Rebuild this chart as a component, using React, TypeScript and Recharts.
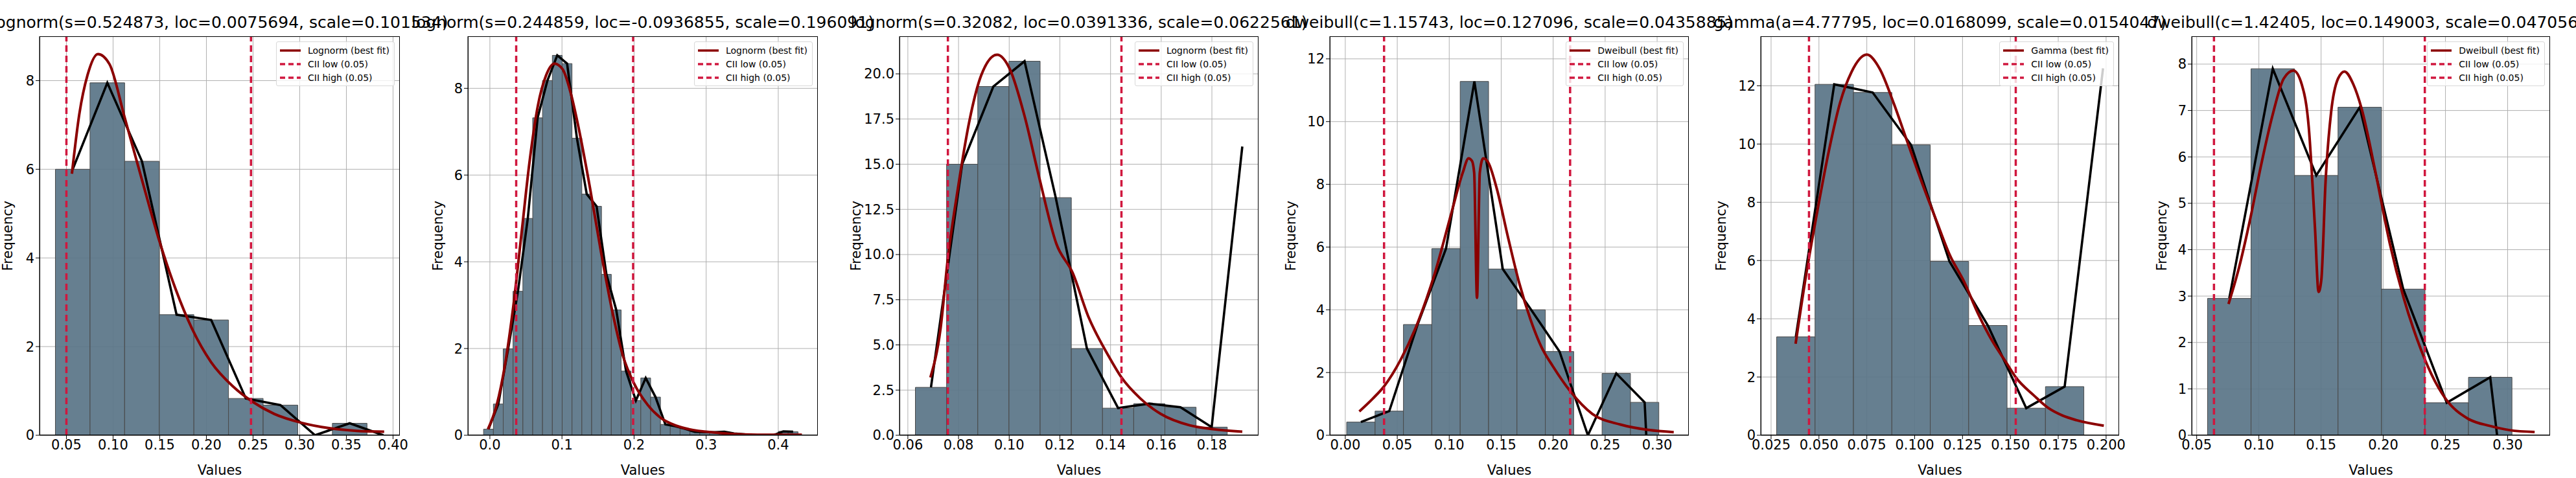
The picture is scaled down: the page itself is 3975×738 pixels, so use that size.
import React from "react";
import { ComposedChart, XAxis, YAxis, CartesianGrid, Line, ReferenceArea, ReferenceLine } from "recharts";

// ---- panel 1: lognorm ----
const P1_TITLE = "lognorm(s=0.524873, loc=0.0075694, scale=0.101534)";
const P1_FIT = "Lognorm (best fit)";
const P1_BIN_START = 0.0382;
const P1_BIN_WIDTH = 0.0371;
const P1_COUNTS = [6.0, 7.95, 6.18, 2.72, 2.6, 0.83, 0.68, 0, 0.27];
const P1_TAIL_X = [0.3896];
const P1_TAIL_Y = [0];
const P1_FIT_X = [0.0559, 0.0638, 0.0727, 0.0838, 0.0962, 0.1124, 0.1315, 0.1492, 0.1668, 0.1845, 0.205, 0.2286, 0.2492, 0.2728, 0.3022, 0.3316, 0.361, 0.3905];
const P1_FIT_Y = [5.9, 7.24, 8.13, 8.6, 8.37, 7.17, 5.72, 4.41, 3.31, 2.41, 1.65, 1.1, 0.76, 0.48, 0.28, 0.16, 0.1, 0.08];
const P1_CII = [0.05, 0.2478];
const P1_XTICKS = [0.05, 0.1, 0.15, 0.2, 0.25, 0.3, 0.35, 0.4];
const P1_YTICKS = [0, 2, 4, 6, 8];

// ---- panel 2: lognorm ----
const P2_TITLE = "lognorm(s=0.244859, loc=-0.0936855, scale=0.196091)";
const P2_FIT = "Lognorm (best fit)";
const P2_BIN_START = -0.00876;
const P2_BIN_WIDTH = 0.01363;
const P2_COUNTS = [0.14, 0.72, 1.99, 3.32, 5.0, 7.32, 8.18, 8.76, 8.57, 6.85, 5.56, 5.28, 3.71, 2.89, 1.48, 0.8, 1.32, 0.88, 0.25, 0.21, 0.15, 0.08, 0.07, 0.07, 0.08, 0.04, 0.02, 0, 0, 0, 0.09, 0.08];
const P2_TAIL_X: number[] = [];
const P2_TAIL_Y: number[] = [];
const P2_FIT_X = [-0.0027, 0.0095, 0.0209, 0.0324, 0.0438, 0.0552, 0.0666, 0.078, 0.0895, 0.1009, 0.1123, 0.1237, 0.1389, 0.1542, 0.1694, 0.1846, 0.1998, 0.2189, 0.2379, 0.257, 0.276, 0.314, 0.352, 0.39, 0.4328];
const P2_FIT_Y = [0.14, 0.7, 1.62, 2.96, 4.64, 6.33, 7.6, 8.3, 8.57, 8.44, 7.88, 7.04, 5.7, 4.22, 2.89, 1.83, 1.2, 0.7, 0.39, 0.23, 0.14, 0.06, 0.02, 0.01, 0.01];
const P2_CII = [0.0365, 0.1987];
const P2_XTICKS = [0, 0.1, 0.2, 0.3, 0.4];
const P2_YTICKS = [0, 2, 4, 6, 8];

// ---- panel 3: lognorm ----
const P3_TITLE = "lognorm(s=0.32082, loc=0.0391336, scale=0.0622561)";
const P3_FIT = "Lognorm (best fit)";
const P3_BIN_START = 0.06297;
const P3_BIN_WIDTH = 0.01231;
const P3_COUNTS = [2.65, 15.0, 19.3, 20.7, 13.15, 4.8, 1.5, 1.75, 1.55, 0.45];
const P3_TAIL_X = [0.192];
const P3_TAIL_Y = [15.98];
const P3_FIT_X = [0.0689, 0.0729, 0.0758, 0.0798, 0.0843, 0.0889, 0.0952, 0.1003, 0.106, 0.1117, 0.1186, 0.125, 0.1312, 0.1392, 0.1443, 0.1518, 0.1598, 0.1712, 0.1803, 0.192];
const P3_FIT_Y = [3.2, 5.9, 9.8, 13.7, 17.4, 19.9, 21.06, 20.25, 17.7, 14.35, 10.6, 9.0, 6.58, 4.39, 3.2, 2.03, 1.18, 0.55, 0.34, 0.2];
const P3_CII = [0.0758, 0.1443];
const P3_XTICKS = [0.06, 0.08, 0.1, 0.12, 0.14, 0.16, 0.18];
const P3_YTICKS = [0, 2.5, 5, 7.5, 10, 12.5, 15, 17.5, 20];

// ---- panel 4: dweibull ----
const P4_TITLE = "dweibull(c=1.15743, loc=0.127096, scale=0.0435885)";
const P4_FIT = "Dweibull (best fit)";
const P4_BIN_START = 0.00135;
const P4_BIN_WIDTH = 0.0273;
const P4_COUNTS = [0.42, 0.77, 3.53, 5.95, 11.28, 5.3, 4.0, 2.67, 0, 1.97, 1.05];
const P4_TAIL_X = [0.2925];
const P4_TAIL_Y = [-2];
const P4_FIT_X = [0.0135, 0.0265, 0.0373, 0.0536, 0.0698, 0.0861, 0.1022, 0.113, 0.1186, 0.1218, 0.124, 0.1267, 0.1294, 0.1327, 0.1375, 0.1456, 0.1565, 0.1673, 0.1781, 0.1889, 0.1997, 0.2163, 0.2377, 0.2648, 0.2918, 0.316];
const P4_FIT_Y = [0.76, 1.17, 1.56, 2.43, 3.6, 5.16, 7.1, 8.37, 8.83, 8.75, 8.37, 4.38, 8.37, 8.83, 8.7, 7.88, 6.32, 4.86, 3.7, 2.8, 2.2, 1.41, 0.68, 0.34, 0.17, 0.1];
const P4_CII = [0.0373, 0.2163];
const P4_XTICKS = [0, 0.05, 0.1, 0.15, 0.2, 0.25, 0.3];
const P4_YTICKS = [0, 2, 4, 6, 8, 10, 12];

// ---- panel 5: gamma ----
const P5_TITLE = "gamma(a=4.77795, loc=0.0168099, scale=0.0154047)";
const P5_FIT = "Gamma (best fit)";
const P5_BIN_START = 0.0279;
const P5_BIN_WIDTH = 0.02006;
const P5_COUNTS = [3.38, 12.05, 11.77, 9.97, 5.97, 3.77, 0.93, 1.67];
const P5_TAIL_X = [0.1984];
const P5_TAIL_Y = [12.6];
const P5_FIT_X = [0.0378, 0.0434, 0.0493, 0.0551, 0.061, 0.0669, 0.075, 0.0816, 0.089, 0.0963, 0.1037, 0.111, 0.1184, 0.1257, 0.133, 0.1404, 0.1477, 0.1528, 0.1624, 0.1697, 0.1771, 0.1844, 0.1988];
const P5_FIT_Y = [3.14, 5.55, 7.75, 9.74, 11.41, 12.46, 13.07, 12.6, 11.41, 10.05, 8.69, 7.43, 6.18, 5.29, 4.19, 3.25, 2.51, 1.99, 1.36, 0.94, 0.68, 0.52, 0.33];
const P5_CII = [0.0448, 0.1528];
const P5_XTICKS = [0.025, 0.05, 0.075, 0.1, 0.125, 0.15, 0.175, 0.2];
const P5_YTICKS = [0, 2, 4, 6, 8, 10, 12];

// ---- panel 6: dweibull ----
const P6_TITLE = "dweibull(c=1.42405, loc=0.149003, scale=0.0470561)";
const P6_FIT = "Dweibull (best fit)";
const P6_BIN_START = 0.05874;
const P6_BIN_WIDTH = 0.03496;
const P6_COUNTS = [2.95, 7.9, 5.6, 7.07, 3.15, 0.7, 1.25];
const P6_TAIL_X = [0.2937];
const P6_TAIL_Y = [-0.5];
const P6_FIT_X = [0.0756, 0.0841, 0.0931, 0.102, 0.111, 0.12, 0.1278, 0.1345, 0.1401, 0.1451, 0.148, 0.1502, 0.1536, 0.1581, 0.1637, 0.1688, 0.176, 0.1827, 0.1939, 0.2052, 0.2164, 0.2276, 0.2388, 0.25, 0.2679, 0.2859, 0.3016, 0.3217];
const P6_FIT_Y = [2.83, 3.62, 4.67, 5.85, 6.9, 7.69, 7.86, 7.56, 6.64, 4.47, 3.09, 3.35, 5.46, 6.97, 7.69, 7.84, 7.56, 7.03, 5.65, 4.14, 2.96, 2.04, 1.31, 0.79, 0.36, 0.2, 0.11, 0.07];
const P6_CII = [0.0639, 0.2334];
const P6_XTICKS = [0.05, 0.1, 0.15, 0.2, 0.25, 0.3];
const P6_YTICKS = [0, 1, 2, 3, 4, 5, 6, 7, 8];

const FONT = "DejaVu Sans, sans-serif";
const BAR_FILL = "#5a7588";
const FIT_COLOR = "#8b0000";
const CII_COLOR = "#d0173e";

const panels = [
  { title: P1_TITLE, fit: P1_FIT, start: P1_BIN_START, width: P1_BIN_WIDTH, counts: P1_COUNTS, tailX: P1_TAIL_X, tailY: P1_TAIL_Y, fitX: P1_FIT_X, fitY: P1_FIT_Y, cii: P1_CII, xTicks: P1_XTICKS, yTicks: P1_YTICKS, xDom: [0.0212, 0.4073], yDom: [0, 9.0], xDec: 2, yDec: 0, left: 61, w: 556, labOff: 31 },
  { title: P2_TITLE, fit: P2_FIT, start: P2_BIN_START, width: P2_BIN_WIDTH, counts: P2_COUNTS, tailX: P2_TAIL_X, tailY: P2_TAIL_Y, fitX: P2_FIT_X, fitY: P2_FIT_Y, cii: P2_CII, xTicks: P2_XTICKS, yTicks: P2_YTICKS, xDom: [-0.0305, 0.4549], yDom: [0, 9.2], xDec: 1, yDec: 0, left: 722, w: 540, labOff: 34 },
  { title: P3_TITLE, fit: P3_FIT, start: P3_BIN_START, width: P3_BIN_WIDTH, counts: P3_COUNTS, tailX: P3_TAIL_X, tailY: P3_TAIL_Y, fitX: P3_FIT_X, fitY: P3_FIT_Y, cii: P3_CII, xTicks: P3_XTICKS, yTicks: P3_YTICKS, xDom: [0.0567, 0.1984], yDom: [0, 22.08], xDec: 2, yDec: 1, left: 1388, w: 554, labOff: 13 },
  { title: P4_TITLE, fit: P4_FIT, start: P4_BIN_START, width: P4_BIN_WIDTH, counts: P4_COUNTS, tailX: P4_TAIL_X, tailY: P4_TAIL_Y, fitX: P4_FIT_X, fitY: P4_FIT_Y, cii: P4_CII, xTicks: P4_XTICKS, yTicks: P4_YTICKS, xDom: [-0.0149, 0.3305], yDom: [0, 12.72], xDec: 2, yDec: 0, left: 2052, w: 554, labOff: 20 },
  { title: P5_TITLE, fit: P5_FIT, start: P5_BIN_START, width: P5_BIN_WIDTH, counts: P5_COUNTS, tailX: P5_TAIL_X, tailY: P5_TAIL_Y, fitX: P5_FIT_X, fitY: P5_FIT_Y, cii: P5_CII, xTicks: P5_XTICKS, yTicks: P5_YTICKS, xDom: [0.0196, 0.2068], yDom: [0, 13.7], xDec: 3, yDec: 0, left: 2717, w: 553, labOff: 19 },
  { title: P6_TITLE, fit: P6_FIT, start: P6_BIN_START, width: P6_BIN_WIDTH, counts: P6_COUNTS, tailX: P6_TAIL_X, tailY: P6_TAIL_Y, fitX: P6_FIT_X, fitY: P6_FIT_Y, cii: P6_CII, xTicks: P6_XTICKS, yTicks: P6_YTICKS, xDom: [0.046, 0.3341], yDom: [0, 8.6], xDec: 2, yDec: 0, left: 3382, w: 553, labOff: 34 },
];

const TOP = 56;
const PLOT_H = 616;
const AXIS_W = 80;
const RIGHT = 30;

function LegendBox({ fit }: { fit: string }) {
  const rows = [
    { label: fit, dash: undefined, color: FIT_COLOR },
    { label: "CII low (0.05)", dash: "8 5", color: CII_COLOR },
    { label: "CII high (0.05)", dash: "8 5", color: CII_COLOR },
  ];
  return (
    <div style={{ position: "absolute", right: 7, top: 7, background: "rgba(255,255,255,0.8)", border: "1px solid #d8d8d8", borderRadius: 3, padding: "2px 7px 2px 4px", fontFamily: FONT, fontSize: 14 }}>
      {rows.map((r) => (
        <div key={r.label} style={{ display: "flex", alignItems: "center", height: 21 }}>
          <svg width={34} height={8} style={{ marginRight: 10 }}>
            <line x1={1} y1={4} x2={33} y2={4} stroke={r.color} strokeWidth={3.5} strokeDasharray={r.dash} />
          </svg>
          <span>{r.label}</span>
        </div>
      ))}
    </div>
  );
}

function Panel({ p }: { p: (typeof panels)[number] }) {
  const bins = p.counts.map((c, i) => ({ x1: p.start + i * p.width, x2: p.start + (i + 1) * p.width, h: c }));
  const outline = [
    ...bins.map((b) => ({ x: (b.x1 + b.x2) / 2, y: b.h })),
    ...p.tailX.map((x, i) => ({ x, y: p.tailY[i] })),
  ];
  const fitData = p.fitX.map((x, i) => ({ x, y: p.fitY[i] }));
  const chartW = AXIS_W + p.w + RIGHT;
  const tickStyle = { fill: "#000", fontSize: 21, fontFamily: FONT };
  return (
    <div style={{ position: "absolute", left: p.left - AXIS_W, top: 0, width: chartW, height: 738 }}>
      <div style={{ position: "absolute", left: AXIS_W - 200, width: p.w + 400, top: 20, textAlign: "center", fontFamily: FONT, fontSize: 25, whiteSpace: "nowrap" }}>
        {p.title}
      </div>
      <ComposedChart width={chartW} height={738} margin={{ top: TOP, right: RIGHT, bottom: 0, left: 0 }}>
        <CartesianGrid stroke="#b0b0b0" strokeWidth={1} horizontalValues={p.yTicks} verticalValues={p.xTicks} />
        <XAxis
          dataKey="x"
          type="number"
          domain={p.xDom}
          allowDataOverflow
          ticks={p.xTicks}
          tickFormatter={(v: number) => v.toFixed(p.xDec)}
          height={66}
          tick={tickStyle}
          tickSize={6}
          tickMargin={1}
          stroke="#000"
          label={{ value: "Values", position: "insideBottom", offset: 5, fill: "#000", fontSize: 21, fontFamily: FONT }}
        />
        <YAxis
          type="number"
          domain={p.yDom}
          allowDataOverflow
          ticks={p.yTicks}
          tickFormatter={(v: number) => v.toFixed(p.yDec)}
          width={AXIS_W}
          tick={tickStyle}
          tickSize={6}
          stroke="#000"
          label={{ value: "Frequency", angle: -90, position: "insideLeft", offset: p.labOff, fill: "#000", fontSize: 21, fontFamily: FONT, style: { textAnchor: "middle" } }}
        />
        {bins.map((b, i) =>
          b.h > 0 ? (
            <ReferenceArea key={i} x1={b.x1} x2={b.x2} y1={0} y2={b.h} fill={BAR_FILL} fillOpacity={0.93} stroke="#4a4a4a" strokeWidth={1} ifOverflow="hidden" />
          ) : null
        )}
        <Line data={outline} dataKey="y" type="linear" stroke="#000" strokeWidth={3.6} dot={false} isAnimationActive={false} />
        <Line data={fitData} dataKey="y" type="monotone" stroke={FIT_COLOR} strokeWidth={4} dot={false} isAnimationActive={false} />
        {p.cii.map((c, i) => (
          <ReferenceLine key={i} x={c} stroke={CII_COLOR} strokeWidth={3.5} strokeDasharray="10 6" />
        ))}
      </ComposedChart>
      <div style={{ position: "absolute", left: AXIS_W, top: TOP, width: p.w, height: PLOT_H, border: "1px solid #000", boxSizing: "border-box", pointerEvents: "none" }}>
        <LegendBox fit={p.fit} />
      </div>
    </div>
  );
}

export default function App() {
  return (
    <div style={{ position: "absolute", left: 0, top: 0, width: 3975, height: 738, background: "#fff", overflow: "hidden" }}>
      {panels.map((p, i) => (
        <Panel key={i} p={p} />
      ))}
    </div>
  );
}
